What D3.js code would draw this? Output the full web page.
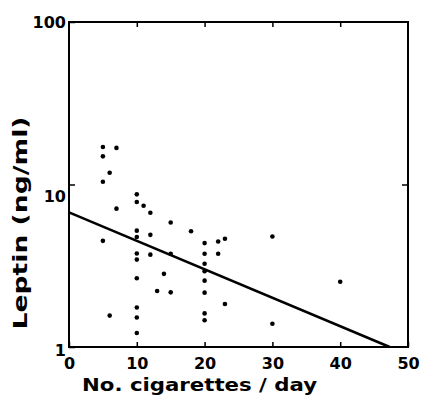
<!DOCTYPE html>
<html>
<head>
<meta charset="utf-8">
<script src="https://cdn.jsdelivr.net/npm/d3@7"></script>
<style>
  body { margin: 0; background: #fff; }
  text { font-family: "DejaVu Sans", sans-serif; font-weight: bold; fill: #000; }
</style>
</head>
<body>
<svg id="chart" width="424" height="404"></svg>
<script>
// cigarettes per day (x) and leptin ng/ml (y)
var cigs = [5, 7, 5, 6, 5, 10, 10, 11, 12, 7, 10, 12, 5, 10, 10, 10, 12, 14, 10, 13, 15, 6,
            10, 10, 10, 15, 18, 20, 22, 23, 22, 20, 15, 20, 20, 20, 20, 23, 20, 20, 30, 40, 30];
var leptin = [17.0, 16.8, 14.9, 11.8, 10.4, 8.7, 7.8, 7.4, 6.7, 7.1, 5.2, 4.9, 4.5, 4.75, 3.76, 3.45, 3.7, 2.82, 2.65, 2.21, 2.17, 1.56,
              1.75, 1.52, 1.22, 5.84, 5.16, 4.36, 4.46, 4.64, 3.75, 3.75, 3.75, 3.25, 2.93, 2.56, 2.16, 1.84, 1.61, 1.46, 4.79, 2.52, 1.39];

// fitted regression line, two end points
var fitX = [0, 47.3];
var fitY = [6.73, 1];

var xTicks = [0, 10, 20, 30, 40, 50];
var yTicks = [1, 10, 100];

var svg = d3.select("#chart"),
    margin = {top: 22, right: 16, bottom: 57, left: 69},
    width = +svg.attr("width") - margin.left - margin.right,
    height = +svg.attr("height") - margin.top - margin.bottom,
    g = svg.append("g").attr("transform", "translate(" + margin.left + "," + margin.top + ")");

var x = d3.scaleLinear().domain([0, 50]).range([0, width]);
var y = d3.scaleLog().domain([1, 100]).range([height, 0]);

// bottom axis with labels, ticks pointing inward
var xAxis = g.append("g")
    .attr("transform", "translate(0," + height + ")")
    .call(d3.axisBottom(x).tickValues(xTicks).tickSizeInner(-5).tickSizeOuter(0).tickPadding(11).tickFormat(d3.format("d")));
xAxis.selectAll("text").attr("font-size", 16);

g.append("g")
    .call(d3.axisTop(x).tickValues([10, 20, 30, 40]).tickSizeInner(-5).tickSizeOuter(0).tickFormat(""));

var yAxis = g.append("g")
    .call(d3.axisLeft(y).tickValues(yTicks).tickSizeInner(-6).tickSizeOuter(0).tickPadding(3).tickFormat(d3.format("d")));
yAxis.selectAll("text").attr("font-size", 16)
    .attr("dy", function(d) { return d == 10 ? "1.05em" : d == 1 ? "0.55em" : "0.32em"; });

g.append("g")
    .attr("transform", "translate(" + width + ",0)")
    .call(d3.axisRight(y).tickValues([10]).tickSizeInner(-6).tickSizeOuter(0).tickFormat(""));

g.selectAll(".domain").remove();
g.selectAll(".tick line").attr("stroke", "#000").attr("stroke-width", 1.5);

// frame
g.append("rect")
    .attr("x", 0).attr("y", 0)
    .attr("width", width).attr("height", height)
    .attr("fill", "none")
    .attr("stroke", "#000")
    .attr("stroke-width", 2);

// regression line
var fit = fitX.map(function(v, i) { return {x: v, y: fitY[i]}; });
g.append("path")
    .datum(fit)
    .attr("fill", "none")
    .attr("stroke", "#000")
    .attr("stroke-width", 2.5)
    .attr("d", d3.line().x(function(d) { return x(d.x); }).y(function(d) { return y(d.y); }));

// points
var pts = cigs.map(function(v, i) { return {x: v, y: leptin[i]}; });
g.selectAll(".pt")
    .data(pts)
  .enter().append("circle")
    .attr("class", "pt")
    .attr("cx", function(d) { return x(d.x); })
    .attr("cy", function(d) { return y(d.y); })
    .attr("r", 2.3)
    .attr("fill", "#000");

// axis titles
svg.append("text")
    .attr("x", 82)
    .attr("y", 391)
    .attr("font-size", 18)
    .attr("textLength", 235)
    .attr("lengthAdjust", "spacingAndGlyphs")
    .text("No. cigarettes / day");

svg.append("text")
    .attr("transform", "translate(27,223) rotate(-90)")
    .attr("text-anchor", "middle")
    .attr("font-size", 19)
    .attr("textLength", 213)
    .attr("lengthAdjust", "spacingAndGlyphs")
    .text("Leptin (ng/ml)");
</script>
</body>
</html>
